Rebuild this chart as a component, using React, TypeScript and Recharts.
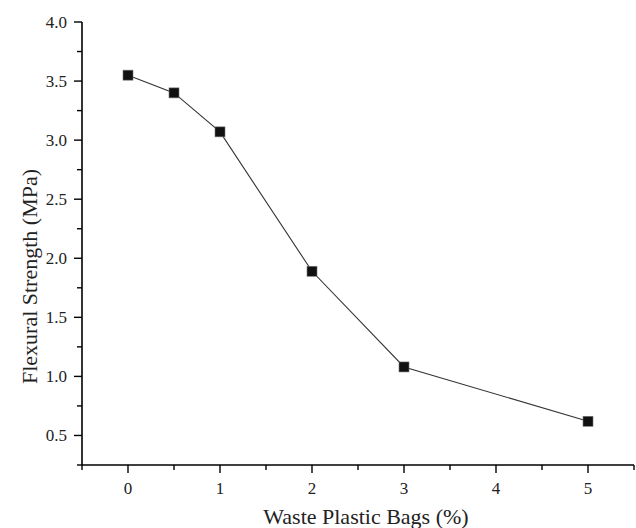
import { LineChart, Line, XAxis, YAxis } from "recharts";

const wasteContent = [0, 0.5, 1, 2, 3, 5];
const flexuralStrength = [3.55, 3.4, 3.07, 1.89, 1.08, 0.62];

const xTicks = [-0.5, 0, 0.5, 1, 1.5, 2, 2.5, 3, 3.5, 4, 4.5, 5, 5.5];
const yTicks = [
  0.25, 0.5, 0.75, 1.0, 1.25, 1.5, 1.75, 2.0, 2.25, 2.5, 2.75, 3.0, 3.25, 3.5,
  3.75, 4.0,
];

const FONT = '"Liberation Serif", "Times New Roman", serif';

const data = wasteContent.map((x, i) => ({ x, y: flexuralStrength[i] }));

const XTick = ({ x, y, payload }: any) => {
  const v = payload.value;
  const major = Number.isInteger(v);
  return (
    <g>
      <line x1={x} x2={x} y1={y} y2={y + (major ? 8 : 5)} stroke="#000" strokeWidth={1.4} />
      {major && v >= 0 && (
        <text x={x} y={y + 29} textAnchor="middle" fontFamily={FONT} fontSize={17} fill="#222">
          {v}
        </text>
      )}
    </g>
  );
};

const YTick = ({ x, y, payload }: any) => {
  const v = payload.value;
  const major = Math.abs(v * 2 - Math.round(v * 2)) < 1e-6;
  return (
    <g>
      <line x1={x} x2={x - (major ? 8 : 5)} y1={y} y2={y} stroke="#000" strokeWidth={1.4} />
      {major && (
        <text x={x - 15} y={y + 6} textAnchor="end" fontFamily={FONT} fontSize={17} fill="#222">
          {v.toFixed(1)}
        </text>
      )}
    </g>
  );
};

const Square = ({ cx, cy }: any) => (
  <rect x={cx - 5} y={cy - 5} width={10} height={10} fill="#111" stroke="#777" strokeWidth={0.6} />
);

export default function App() {
  return (
    <div style={{ position: "absolute", left: 0, top: 0, background: "#fff" }}>
      <LineChart
        width={636}
        height={528}
        data={data}
        margin={{ top: 22, right: 2, bottom: 0, left: 0 }}
      >
        <XAxis
          dataKey="x"
          type="number"
          domain={[-0.5, 5.5]}
          ticks={xTicks}
          interval={0}
          height={63}
          tickSize={0}
          tickMargin={0}
          tickLine={false}
          tick={<XTick />}
          axisLine={{ stroke: "#000", strokeWidth: 1.6 }}
          label={({ viewBox }: any) => (
            <text
              x={viewBox.x + viewBox.width / 2 + 8}
              y={viewBox.y + 59}
              textAnchor="middle"
              fontFamily={FONT}
              fontSize={22}
              fill="#222"
            >
              Waste Plastic Bags (%)
            </text>
          )}
        />
        <YAxis
          type="number"
          domain={[0.25, 4.0]}
          ticks={yTicks}
          interval={0}
          width={82}
          tickSize={0}
          tickMargin={0}
          tickLine={false}
          tick={<YTick />}
          axisLine={{ stroke: "#000", strokeWidth: 1.6 }}
          label={({ viewBox }: any) => {
            const cx = viewBox.x + 29;
            const cy = viewBox.y + viewBox.height / 2 + 33;
            return (
              <text
                x={cx}
                y={cy}
                transform={`rotate(-90 ${cx} ${cy})`}
                textAnchor="middle"
                dominantBaseline="central"
                fontFamily={FONT}
                fontSize={22}
                fill="#222"
              >
                Flexural Strength (MPa)
              </text>
            );
          }}
        />
        <Line
          type="linear"
          dataKey="y"
          stroke="#333"
          strokeWidth={1.1}
          dot={<Square />}
          activeDot={false}
          isAnimationActive={false}
        />
      </LineChart>
    </div>
  );
}
